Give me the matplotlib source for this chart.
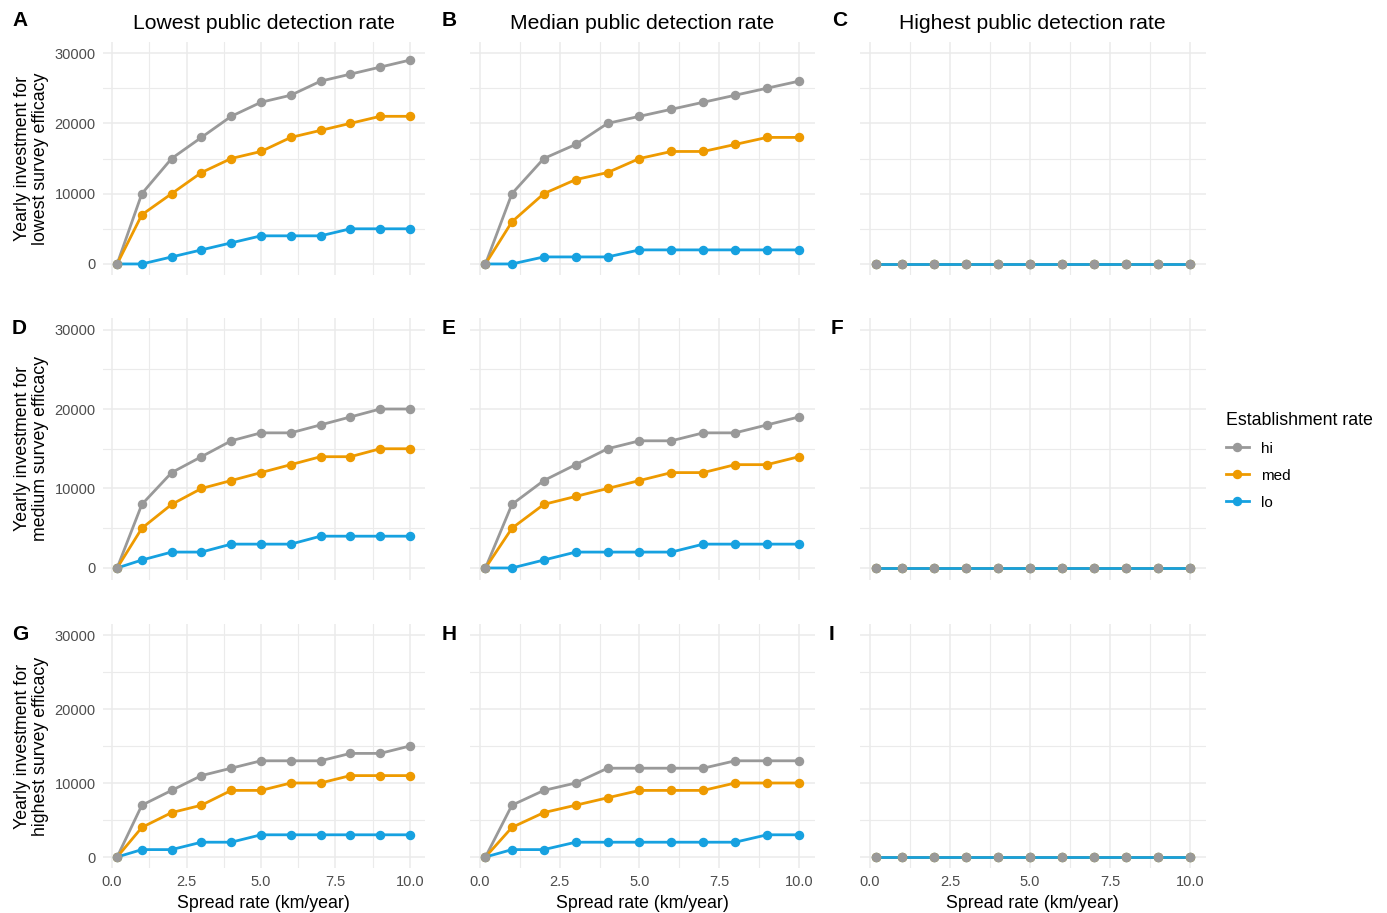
import matplotlib
matplotlib.use("Agg")
import matplotlib.pyplot as plt
from matplotlib.lines import Line2D

plt.rcParams['font.family'] = ['Liberation Sans', 'DejaVu Sans']

W, H = 1387, 913
DPI = 100

spread = [0.17, 1, 2, 3, 4, 5, 6, 7, 8, 9, 10]
series_names = ["hi", "med", "lo"]
colors = {"hi": "#999999", "med": "#EE9A00", "lo": "#16A1E0"}

zeros = [0] * 11
# rows: survey efficacy (lowest, medium, highest); cols: public detection (lowest, median, highest)
panel_A = {"hi": [0, 10000, 15000, 18000, 21000, 23000, 24000, 26000, 27000, 28000, 29000],
           "med": [0, 7000, 10000, 13000, 15000, 16000, 18000, 19000, 20000, 21000, 21000],
           "lo": [0, 0, 1000, 2000, 3000, 4000, 4000, 4000, 5000, 5000, 5000]}
panel_B = {"hi": [0, 10000, 15000, 17000, 20000, 21000, 22000, 23000, 24000, 25000, 26000],
           "med": [0, 6000, 10000, 12000, 13000, 15000, 16000, 16000, 17000, 18000, 18000],
           "lo": [0, 0, 1000, 1000, 1000, 2000, 2000, 2000, 2000, 2000, 2000]}
panel_C = {"hi": zeros, "med": zeros, "lo": zeros}
panel_D = {"hi": [0, 8000, 12000, 14000, 16000, 17000, 17000, 18000, 19000, 20000, 20000],
           "med": [0, 5000, 8000, 10000, 11000, 12000, 13000, 14000, 14000, 15000, 15000],
           "lo": [0, 1000, 2000, 2000, 3000, 3000, 3000, 4000, 4000, 4000, 4000]}
panel_E = {"hi": [0, 8000, 11000, 13000, 15000, 16000, 16000, 17000, 17000, 18000, 19000],
           "med": [0, 5000, 8000, 9000, 10000, 11000, 12000, 12000, 13000, 13000, 14000],
           "lo": [0, 0, 1000, 2000, 2000, 2000, 2000, 3000, 3000, 3000, 3000]}
panel_F = {"hi": zeros, "med": zeros, "lo": zeros}
panel_G = {"hi": [0, 7000, 9000, 11000, 12000, 13000, 13000, 13000, 14000, 14000, 15000],
           "med": [0, 4000, 6000, 7000, 9000, 9000, 10000, 10000, 11000, 11000, 11000],
           "lo": [0, 1000, 1000, 2000, 2000, 3000, 3000, 3000, 3000, 3000, 3000]}
panel_H = {"hi": [0, 7000, 9000, 10000, 12000, 12000, 12000, 12000, 13000, 13000, 13000],
           "med": [0, 4000, 6000, 7000, 8000, 9000, 9000, 9000, 10000, 10000, 10000],
           "lo": [0, 1000, 1000, 2000, 2000, 2000, 2000, 2000, 2000, 3000, 3000]}
panel_I = {"hi": zeros, "med": zeros, "lo": zeros}

panels = [[panel_A, panel_B, panel_C], [panel_D, panel_E, panel_F], [panel_G, panel_H, panel_I]]
letters = [["A", "B", "C"], ["D", "E", "F"], ["G", "H", "I"]]
col_titles = ["Lowest public detection rate", "Median public detection rate", "Highest public detection rate"]
row_labels = ["Yearly investment for\nlowest survey efficacy",
              "Yearly investment for\nmedium survey efficacy",
              "Yearly investment for\nhighest survey efficacy"]
x_ticks = [0.0, 2.5, 5.0, 7.5, 10.0]
x_minor = [1.25, 3.75, 6.25, 8.75]
y_ticks = [0, 10000, 20000, 30000]
y_minor = [5000, 15000, 25000]
xlabel = "Spread rate (km/year)"
legend_title = "Establishment rate"

fig = plt.figure(figsize=(W / DPI, H / DPI), dpi=DPI)

col_px = [(102.5, 424.6), (469.8, 814.6), (859.8, 1205.7)]
row_px = [(42.5, 274.5), (317.6, 579.9), (623.9, 868.1)]
letter_px = [[(12, 21), (442, 21), (832, 21)],
             [(12, 328), (442, 328), (831, 328)],
             [(12, 634), (442, 634), (829, 634)]]

grid_col = "#EBEBEB"
tick_col = "#4D4D4D"

for r in range(3):
    for c in range(3):
        l, rr = col_px[c]
        t, b = row_px[r]
        ax = fig.add_axes([l / W, 1 - b / H, (rr - l) / W, (b - t) / H])
        data = panels[r][c]
        for name in series_names:
            ax.plot(spread, data[name], color=colors[name], lw=2.0, zorder=3,
                    solid_capstyle='butt')
        for name in reversed(series_names):
            ax.plot(spread, data[name], ls='none', marker='o', ms=5.8,
                    color=colors[name], zorder=4)
        ax.set_xlim(-0.3215, 10.4915)
        ax.set_ylim(-1500, 31500)
        ax.set_xticks(x_ticks)
        ax.set_xticks(x_minor, minor=True)
        ax.set_yticks(y_ticks)
        ax.set_yticks(y_minor, minor=True)
        ax.grid(True, which='major', color=grid_col, lw=1.1, zorder=0)
        ax.grid(True, which='minor', color=grid_col, lw=0.8, zorder=0)
        for s in ax.spines.values():
            s.set_visible(False)
        ax.tick_params(which='both', length=0, colors=tick_col, labelsize=10.5)
        ax.tick_params(axis='x', pad=5)
        ax.tick_params(axis='y', pad=5)
        if r == 2:
            ax.set_xticklabels(["0.0", "2.5", "5.0", "7.5", "10.0"])
            ax.set_xlabel(xlabel, fontsize=12.8, color='black', labelpad=4)
        else:
            ax.set_xticklabels([])
        if c == 0:
            ax.set_yticklabels([str(v) for v in y_ticks])
            ax.set_ylabel(row_labels[r], fontsize=12.8, color='black', labelpad=4,
                          linespacing=1.05)
        else:
            ax.set_yticklabels([])
        if r == 0:
            ax.set_title(col_titles[c], fontsize=15.2, pad=10)
        lx, ly = letter_px[r][c]
        fig.text(lx / W, 1 - ly / H, letters[r][c], fontsize=15, fontweight='bold',
                 ha='left', va='center')

handles = [Line2D([0], [0], color=colors[n], lw=2.0, marker='o', ms=5.8) for n in series_names]
leg = fig.legend(handles, series_names, title=legend_title, loc='upper left',
                 bbox_to_anchor=(1215 / W, 1 - 401 / H), frameon=False,
                 fontsize=11, title_fontsize=12.8, handlelength=1.5,
                 labelspacing=0.85, handletextpad=0.8, borderaxespad=0.3)
leg._legend_box.align = "left"

fig.savefig("out.png", dpi=DPI)
